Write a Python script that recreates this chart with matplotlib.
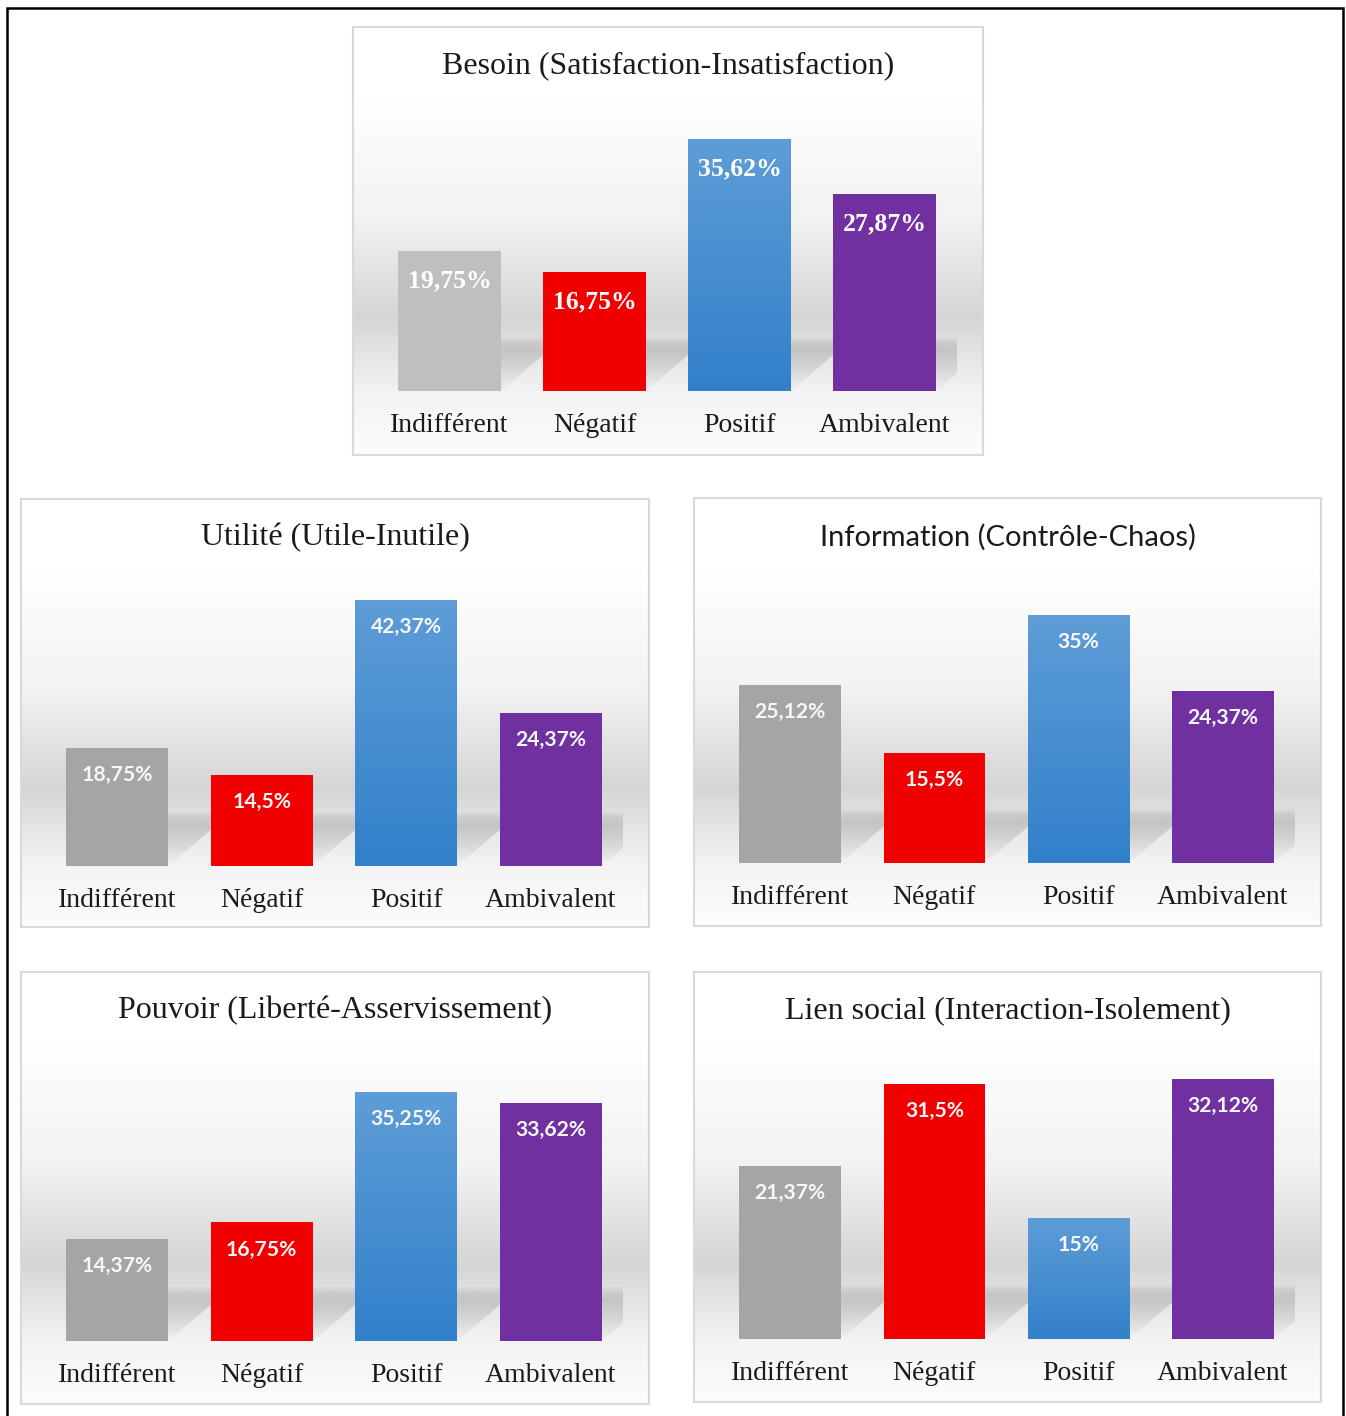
import numpy as np
import matplotlib
matplotlib.use("Agg")
import matplotlib.pyplot as plt
from matplotlib.patches import Rectangle, Polygon
from matplotlib.colors import to_rgb

# ---------------- data ----------------
categories = ["Indifférent", "Négatif", "Positif", "Ambivalent"]

titles = [
    "Besoin (Satisfaction-Insatisfaction)",
    "Utilité (Utile-Inutile)",
    "Information (Contrôle-Chaos)",
    "Pouvoir (Liberté-Asservissement)",
    "Lien social (Interaction-Isolement)",
]
besoin = [19.75, 16.75, 35.62, 27.87]
utilite = [18.75, 14.5, 42.37, 24.37]
information = [25.12, 15.5, 35.0, 24.37]
pouvoir = [14.37, 16.75, 35.25, 33.62]
lien_social = [21.37, 31.5, 15.0, 32.12]

besoin_labels = ["19,75%", "16,75%", "35,62%", "27,87%"]
utilite_labels = ["18,75%", "14,5%", "42,37%", "24,37%"]
information_labels = ["25,12%", "15,5%", "35%", "24,37%"]
pouvoir_labels = ["14,37%", "16,75%", "35,25%", "33,62%"]
lien_social_labels = ["21,37%", "31,5%", "15%", "32,12%"]

axis_max = [40, 45, 40, 40, 35]

# ---------------- layout / style ----------------
W, H = 1346, 1416
fig = plt.figure(figsize=(W / 100, H / 100), dpi=100)
fig.patch.set_facecolor("white")

SERIF = "Liberation Serif"
SANS = "Lato"

panels_px = [
    (353, 27, 983, 455),
    (21, 499, 649, 927),
    (694, 498, 1321, 926),
    (21, 972, 649, 1404),
    (694, 972, 1321, 1402),
]
bar_bottom_px = [391, 866, 863, 1341, 1339]
AX_H = 283

values_all = [besoin, utilite, information, pouvoir, lien_social]
labels_all = [besoin_labels, utilite_labels, information_labels,
              pouvoir_labels, lien_social_labels]
title_fonts = [SERIF, SERIF, SANS, SERIF, SERIF]
label_fonts = [SERIF, SANS, SANS, SANS, SANS]

gray_first = "#BFBFBF"
gray_other = "#A5A5A5"
red = "#F00000"
purple = "#7030A0"
blue_top = "#5E9DD7"
blue_bot = "#3280CA"


def frac(x0, y0, x1, y1):
    return [x0 / W, 1 - y1 / H, (x1 - x0) / W, (y1 - y0) / H]


# background gradient (fraction from top, gray level)
stops_t = [0.0, 0.17, 0.45, 0.68, 0.73, 0.86, 1.0]
stops_v = [1.0, 1.0, 0.95, 0.835, 0.875, 0.955, 0.99]
tt = np.linspace(0, 1, 400)
gv = np.interp(tt, stops_t, stops_v)
bg_img = np.dstack([gv, gv, gv]).reshape(400, 1, 3)

# shadow alpha profile (bottom -> top)
ts = np.linspace(0, 1, 120)
shadow_alpha = np.interp(ts, [0.0, 0.35, 0.75, 0.9, 1.0], [0.0, 0.22, 0.42, 0.3, 0.05])

for k in range(5):
    x0, y0, x1, y1 = panels_px[k]
    bg = fig.add_axes(frac(x0, y0, x1, y1))
    bg.imshow(bg_img, extent=[0, 1, 0, 1], aspect="auto", origin="upper")
    bg.set_xlim(0, 1)
    bg.set_ylim(0, 1)
    bg.axis("off")
    bg.add_patch(Rectangle((0, 0), 1, 1, transform=bg.transAxes, fill=False,
                           edgecolor="#D9D9D9", linewidth=1.5, clip_on=False))
    # title
    bg.text(0.5, 1 - 39 / (y1 - y0), titles[k], transform=bg.transAxes,
            ha="center", va="center",
            fontsize=23 if title_fonts[k] == SERIF else 21,
            family=title_fonts[k], color="#1A1A1A")

    # bar axes
    bb = bar_bottom_px[k]
    ax = fig.add_axes(frac(x0 + 24, bb - AX_H, x1 - 26, bb))
    ax.patch.set_alpha(0)
    for s in ax.spines.values():
        s.set_visible(False)
    ax.set_yticks([])
    vals = values_all[k]
    x = np.arange(len(categories))
    width = 0.705
    cols = [gray_first if k == 0 else gray_other, red, "none", purple]
    bars = ax.bar(x, vals, width=width, color=cols, zorder=3)

    ytop = axis_max[k]
    # floor shadows behind bars
    hs = 54 / AX_H * ytop
    dx = 0.44
    shade = np.zeros((120, 1, 4))
    shade[..., :3] = 0.6
    shade[:, 0, 3] = shadow_alpha[::-1]
    for i, v in enumerate(vals):
        xr = x[i] + width / 2
        tri = Polygon([(xr, 0), (xr, hs), (xr + dx, hs)], closed=True,
                      facecolor="none", edgecolor="none")
        ax.add_patch(tri)
        im = ax.imshow(shade, extent=[xr, xr + dx, 0, hs], aspect="auto",
                       origin="upper", zorder=1, interpolation="bilinear")
        im.set_clip_path(tri)

    # blue gradient bar
    pb = bars[2]
    c_top = np.array(to_rgb(blue_top))
    c_bot = np.array(to_rgb(blue_bot))
    g = np.linspace(0, 1, 200)[:, None]
    grad = (c_top[None, :] * (1 - g) + c_bot[None, :] * g).reshape(200, 1, 3)
    im = ax.imshow(grad, extent=[pb.get_x(), pb.get_x() + pb.get_width(), 0, pb.get_height()],
                   aspect="auto", origin="upper", zorder=3, interpolation="bilinear")
    im.set_clip_path(pb)

    ax.set_xlim(-0.5, 3.5)
    ax.set_ylim(0, ytop)
    ax.set_xticks(x, labels=categories)
    ax.tick_params(axis="x", length=0, pad=16, labelsize=20, labelcolor="#1A1A1A")
    for lab in ax.get_xticklabels():
        lab.set_family(SERIF)

    # data labels
    for i, v in enumerate(vals):
        if label_fonts[k] == SERIF:
            ax.annotate(labels_all[k][i], (x[i], v), xytext=(0, -26),
                        textcoords="offset points", ha="center", va="baseline",
                        fontsize=18.5, fontweight="bold", family=SERIF,
                        color="white", zorder=5)
        else:
            ax.annotate(labels_all[k][i], (x[i], v), xytext=(0, -23.8),
                        textcoords="offset points", ha="center", va="baseline",
                        fontsize=15.2, fontweight="bold", family=SANS,
                        color="#F8F8F8", zorder=5)

# outer black frame (bottom edge runs past the image)
fig.add_artist(Rectangle((7.3 / W, -0.01), (1342.5 - 7.3) / W, 1.01 - 8.0 / H,
                         transform=fig.transFigure, fill=False,
                         edgecolor="black", linewidth=1.8))

fig.savefig("out.png", dpi=100)
